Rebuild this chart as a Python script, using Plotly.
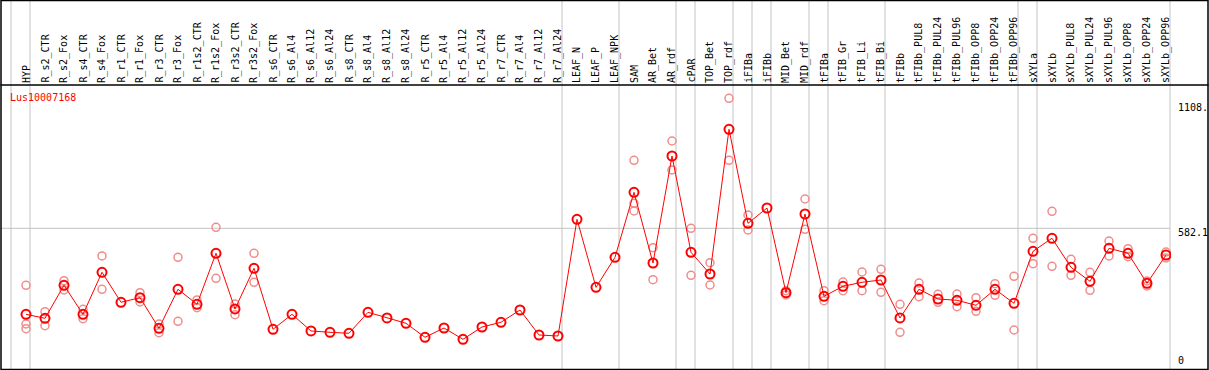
import plotly.graph_objects as go

# ---- data ----
samples = ["HYP", "R_s2_CTR", "R_s2_Fox", "R_s4_CTR", "R_s4_Fox", "R_r1_CTR", "R_r1_Fox",
           "R_r3_CTR", "R_r3_Fox", "R_r1s2_CTR", "R_r1s2_Fox", "R_r3s2_CTR", "R_r3s2_Fox",
           "R_s6_CTR", "R_s6_Al4", "R_s6_Al12", "R_s6_Al24", "R_s8_CTR", "R_s8_Al4", "R_s8_Al12",
           "R_s8_Al24", "R_r5_CTR", "R_r5_Al4", "R_r5_Al12", "R_r5_Al24", "R_r7_CTR", "R_r7_Al4",
           "R_r7_Al12", "R_r7_Al24", "LEAF_N", "LEAF_P", "LEAF_NPK", "SAM", "AR_Bet", "AR_rdf",
           "cPAR", "TOP_Bet", "TOP_rdf", "iFIBa", "iFIBb", "MID_Bet", "MID_rdf", "tFIBa",
           "tFIB_Gr", "tFIB_Li", "tFIB_Bi", "tFIBb", "tFIBb_PUL8", "tFIBb_PUL24", "tFIBb_PUL96",
           "tFIBb_OPP8", "tFIBb_OPP24", "tFIBb_OPP96", "sXYLa", "sXYLb", "sXYLb_PUL8",
           "sXYLb_PUL24", "sXYLb_PUL96", "sXYLb_OPP8", "sXYLb_OPP24", "sXYLb_OPP96"]

mean_expr = [234.2, 218.0, 351.5, 234.2, 404.1, 282.8, 301.4, 177.6, 335.4, 274.7, 481.0,
             255.7, 420.3, 173.5, 234.2, 166.7, 161.4, 157.4, 242.3, 219.3, 197.8, 141.2,
             178.8, 133.1, 182.8, 201.9, 251.6, 150.5, 146.4, 618.5, 343.4, 464.8, 727.7,
             441.7, 874.6, 485.0, 397.2, 982.6, 602.3, 664.2, 321.6, 640.0, 307.0, 347.5,
             363.7, 373.0, 219.3, 335.4, 296.1, 290.9, 270.6, 335.4, 278.7, 489.1, 541.7,
             424.4, 367.7, 501.2, 481.0, 359.6, 474.1]

rep_a = [351.5, 244.7, 370.1, 254.4, 470.1, None, 321.6, 195.0, 464.8, 292.1, 586.2,
         275.9, 481.0, None, None, None, None, None, None, None, None, None,
         None, None, None, None, None, None, None, None, None, None, 857.2,
         503.6, 935.3, 582.1, 443.0, 1108.0, 635.9, None, 329.7, 700.6, 329.7, 364.9,
         405.3, 416.3, 274.7, 360.8, 315.1, 316.3, 301.4, 358.0, 387.9, 541.7, 650.9,
         456.7, 404.1, 530.7, 499.6, 368.9, 486.2]

rep_b = [195.0, 188.1, 332.5, 216.4, 335.4, None, 284.0, 159.8, 205.9, 260.9, 379.9,
         232.6, 363.7, None, None, None, None, None, None, None, None, None,
         None, None, None, None, None, None, None, None, None, None, 683.2,
         374.2, 818.0, 392.0, 352.7, 857.2, 575.2, None, 312.3, 578.1, 289.2, 329.7,
         329.7, 323.2, 161.4, 305.4, 282.8, 265.0, 246.4, 311.1, 170.7, 438.9, 428.4,
         392.0, 331.3, 470.1, 467.2, 348.7, 462.0]

rep_c = [176.0] + [None] * 31 + [652.1] + [None] * 28

boundaries = [-1, 0, 28, 31, 34, 35, 37, 38, 39, 41, 42, 45, 52, 53, 60]
y_ticks = ["1108.", "582.1", "0"]
title = "Lus10007168"

# ---- layout geometry ----
W, H = 1209, 370
ML, MR, MT, MB = 1, 38, 85, 1
x_range = [-1.316, 60.263]
y_range = [12.9, 1161.8]
FONT = "DejaVu Sans Mono"
GRID = "#c4c4c4"


def px_x(p):
    return (p - ML) / (W - ML - MR)


def px_y(p):
    return (H - MB - p) / (H - MT - MB)


def xdata_to_paper(v):
    return (v - x_range[0]) / (x_range[1] - x_range[0])


x_idx = list(range(len(samples)))

fig = go.Figure()
for reps in (rep_a, rep_b, rep_c):
    fig.add_trace(go.Scatter(
        x=x_idx, y=reps, mode="markers", hoverinfo="skip",
        marker=dict(symbol="circle-open", size=8, color="#f08c8c",
                    line=dict(width=1.5, color="#f08c8c")),
        showlegend=False))

fig.add_trace(go.Scatter(
    x=x_idx, y=mean_expr, mode="lines+markers",
    line=dict(color="#ff0000", width=1),
    marker=dict(symbol="circle-open", size=9, color="#ff0000",
                line=dict(width=2, color="#ff0000")),
    showlegend=False))

shapes = []
# vertical group separators across full height
for b in boundaries:
    xp = xdata_to_paper(b + 4 / 19)
    shapes.append(dict(type="line", xref="paper", yref="paper", x0=xp, x1=xp,
                       y0=0, y1=px_y(0.5), line=dict(color=GRID, width=1), layer="below"))
# horizontal grid line at 582.1
shapes.append(dict(type="line", xref="paper", yref="y", x0=0, x1=xdata_to_paper(60 + 4 / 19),
                   y0=582.1, y1=582.1, line=dict(color=GRID, width=1), layer="below"))
# outer frame
shapes.append(dict(type="rect", xref="paper", yref="paper",
                   x0=px_x(1), x1=px_x(1208), y0=px_y(369.5), y1=px_y(0.5),
                   line=dict(color="black", width=1.5)))
# header separator
shapes.append(dict(type="line", xref="paper", yref="paper",
                   x0=px_x(0.5), x1=px_x(1208.5), y0=1, y1=1,
                   line=dict(color="black", width=1.5)))

annotations = []
for i, s in enumerate(samples):
    annotations.append(dict(x=i, xref="x", y=1, yref="paper", text=s, showarrow=False,
                            textangle=-90, xanchor="center", yanchor="bottom", yshift=1,
                            borderpad=0, font=dict(family=FONT, size=10, color="black")))

annotations.append(dict(x=px_x(9), y=px_y(97), xref="paper", yref="paper", text=title,
                        showarrow=False, xanchor="left", yanchor="middle", borderpad=0,
                        font=dict(family=FONT, size=10, color="#ff0000")))

ylab_pos = [103.3, 228.3, 366]
ylab_anchor = ["top", "top", "bottom"]
for t, p, a in zip(y_ticks, ylab_pos, ylab_anchor):
    annotations.append(dict(x=px_x(1177), y=px_y(p), xref="paper", yref="paper", text=t,
                            showarrow=False, xanchor="left", yanchor=a, borderpad=0,
                            yshift=2 if a == "top" else -1,
                            font=dict(family=FONT, size=10, color="black")))

fig.update_layout(
    width=W, height=H,
    margin=dict(l=ML, r=MR, t=MT, b=MB, pad=0),
    paper_bgcolor="white", plot_bgcolor="white",
    xaxis=dict(range=x_range, showgrid=False, zeroline=False, showticklabels=False,
               ticks="", showline=False, fixedrange=True),
    yaxis=dict(range=y_range, showgrid=False, zeroline=False, showticklabels=False,
               ticks="", showline=False, fixedrange=True),
    shapes=shapes, annotations=annotations,
)

fig.write_html("out.html", config={"displayModeBar": False},
               post_script="document.body.style.margin='0px';document.body.style.overflow='hidden';")
